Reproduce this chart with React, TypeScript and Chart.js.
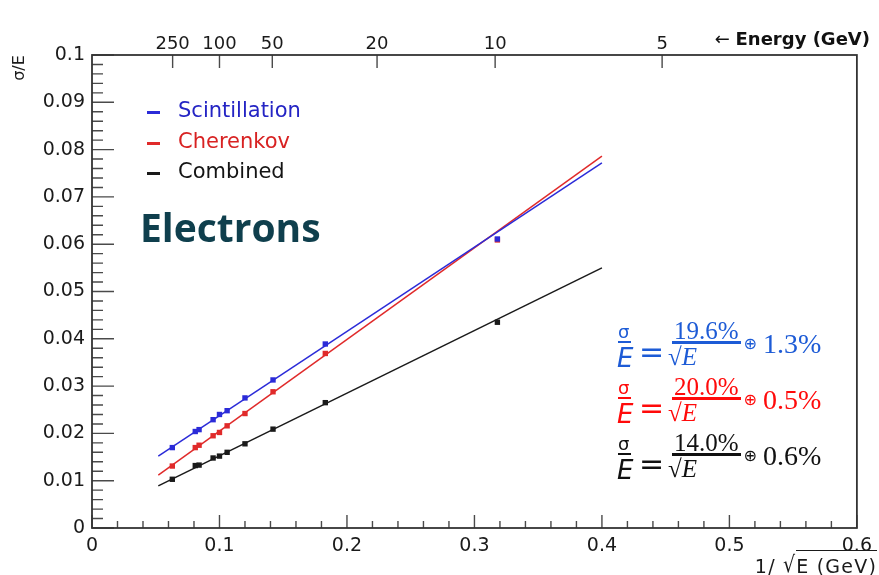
import React, { useEffect, useRef } from "react";
import { Chart, registerables } from "chart.js";

Chart.register(...registerables);

// 1/sqrt(E) of the measured beam energies
const invSqrtE = [0.063, 0.081, 0.084, 0.095, 0.1, 0.106, 0.12, 0.142, 0.183, 0.318];
const scintValues = [0.017, 0.0204, 0.0208, 0.0229, 0.024, 0.0248, 0.0275, 0.0313, 0.0389, 0.0611];
const cherenkovValues = [0.0131, 0.017, 0.0175, 0.0195, 0.0202, 0.0216, 0.0242, 0.0288, 0.0369, 0.0609];
const combinedValues = [0.0103, 0.0132, 0.0133, 0.0148, 0.0152, 0.016, 0.0178, 0.0209, 0.0265, 0.0435];

// fit lines (end points)
const fitRange = [0.052, 0.4];
const scintFit = [0.0152, 0.0772];
const cherenkovFit = [0.0112, 0.0786];
const combinedFit = [0.0089, 0.055];

// top axis: energy (GeV)
const energyTicks = [250, 100, 50, 20, 10, 5];

const seriesNames = ["Scintillation", "Cherenkov", "Combined"];
const stochasticTerms = ["19.6%", "20.0%", "14.0%"];
const constantTerms = ["1.3%", "0.5%", "0.6%"];

const LINE_COLORS = ["#2b2bd8", "#e02a2a", "#1a1a1a"];
const LEGEND_COLORS = ["#2424c4", "#d82222", "#141414"];
const FORMULA_COLORS = ["#1d5bd6", "#ff0a0a", "#111111"];

const SANS = "'DejaVu Sans', sans-serif";
const SERIF = "'Liberation Serif', serif";

const toPts = (xs: number[], ys: number[]) => xs.map((x, i) => ({ x, y: ys[i] }));

const rootFrame = {
  id: "rootFrame",
  afterDraw(chart: any) {
    const { ctx, chartArea: a, scales } = chart;
    const x = scales.x;
    const y = scales.y;
    ctx.save();
    ctx.strokeStyle = "#4a4a4a";
    ctx.lineWidth = 1.4;
    ctx.beginPath();
    for (let i = 0; i <= 30; i++) {
      const px = x.getPixelForValue(i * 0.02);
      const len = i % 5 === 0 ? 13 : 7;
      ctx.moveTo(px, a.bottom);
      ctx.lineTo(px, a.bottom - len);
    }
    for (let i = 0; i <= 50; i++) {
      const py = y.getPixelForValue(i * 0.002);
      const len = i % 5 === 0 ? 22 : 11;
      ctx.moveTo(a.left, py);
      ctx.lineTo(a.left + len, py);
    }
    energyTicks.forEach((e) => {
      const px = x.getPixelForValue(1 / Math.sqrt(e));
      ctx.moveTo(px, a.top);
      ctx.lineTo(px, a.top + 13);
    });
    ctx.stroke();
    ctx.strokeStyle = "#333";
    ctx.lineWidth = 1.8;
    ctx.strokeRect(a.left, a.top, a.right - a.left, a.bottom - a.top);
    ctx.restore();
  },
};

function Formula({ idx, B }: { idx: number; B: number }) {
  const color = FORMULA_COLORS[idx];
  return (
    <div style={{ position: "absolute", left: 617, top: B, width: 0, height: 0, color, whiteSpace: "nowrap" }}>
      <span style={{ position: "absolute", left: 1, top: -19, fontFamily: SANS, fontSize: 18, lineHeight: 1 }}>σ</span>
      <div style={{ position: "absolute", left: 1, top: -1, width: 13, height: 2, background: color }} />
      <span style={{ position: "absolute", left: 0, top: 3, fontFamily: SANS, fontStyle: "italic", fontSize: 26, lineHeight: 1 }}>E</span>
      <span style={{ position: "absolute", left: 22, top: -5, fontFamily: SANS, fontSize: 30, lineHeight: 1 }}>=</span>
      <div style={{ position: "absolute", left: 51, top: -21, display: "flex", alignItems: "flex-start" }}>
        <div style={{ display: "flex", flexDirection: "column", alignItems: "flex-start" }}>
          <div
            style={{
              fontFamily: SERIF,
              fontSize: 25,
              lineHeight: "20px",
              borderBottom: `3px solid ${color}`,
              padding: "0 2px",
              marginLeft: 4,
            }}
          >
            {stochasticTerms[idx]}
          </div>
          <div style={{ fontFamily: SERIF, fontSize: 25, lineHeight: 1 }}>
            √<i>E</i>
          </div>
        </div>
        <span style={{ fontFamily: SANS, fontSize: 16, lineHeight: 1, marginLeft: 3, marginTop: 15 }}>⊕</span>
        <span style={{ fontFamily: SERIF, fontSize: 28, lineHeight: 1, marginLeft: 6, marginTop: 9 }}>
          {constantTerms[idx]}
        </span>
      </div>
    </div>
  );
}

export default function App() {
  const ref = useRef<HTMLCanvasElement>(null);

  useEffect(() => {
    const pointSet = (i: number, ys: number[]) => ({
      label: seriesNames[i],
      data: toPts(invSqrtE, ys),
      showLine: false,
      pointStyle: "rect" as const,
      pointRadius: 3.8,
      backgroundColor: LINE_COLORS[i],
      borderColor: LINE_COLORS[i],
      borderWidth: 0,
    });
    const fitSet = (i: number, ys: number[]) => ({
      label: seriesNames[i] + " fit",
      data: toPts(fitRange, ys),
      showLine: true,
      pointRadius: 0,
      borderColor: LINE_COLORS[i],
      borderWidth: 1.5,
      fill: false,
    });
    const tickFont = { family: "DejaVu Sans", size: 19 };
    const chart = new Chart(ref.current as HTMLCanvasElement, {
      type: "scatter",
      data: {
        datasets: [
          pointSet(0, scintValues),
          pointSet(1, cherenkovValues),
          pointSet(2, combinedValues),
          fitSet(0, scintFit),
          fitSet(1, cherenkovFit),
          fitSet(2, combinedFit),
        ],
      },
      options: {
        responsive: false,
        animation: false,
        events: [],
        layout: { padding: { left: 0, right: 19, top: 0, bottom: 0 } },
        plugins: { legend: { display: false }, tooltip: { enabled: false } },
        scales: {
          x: {
            type: "linear",
            position: "bottom",
            min: 0,
            max: 0.6,
            grid: { display: false, drawTicks: false },
            border: { display: false },
            ticks: {
              stepSize: 0.1,
              autoSkip: false,
              maxRotation: 0,
              padding: 7,
              color: "#1a1a1a",
              font: tickFont,
              callback: (v: any) => String(parseFloat(Number(v).toFixed(1))),
            },
            afterFit: (s: any) => {
              s.height = 47;
            },
          },
          x2: {
            type: "linear",
            position: "top",
            min: 0,
            max: 0.6,
            grid: { display: false, drawTicks: false },
            border: { display: false },
            afterBuildTicks: (s: any) => {
              s.ticks = energyTicks.map((e) => ({ value: 1 / Math.sqrt(e) }));
            },
            ticks: {
              autoSkip: false,
              maxRotation: 0,
              padding: 0,
              color: "#1a1a1a",
              font: { family: "DejaVu Sans", size: 18 },
              callback: (_v: any, i: number) => String(energyTicks[i]),
            },
            afterFit: (s: any) => {
              s.height = 55;
            },
          },
          y: {
            type: "linear",
            position: "left",
            min: 0,
            max: 0.1,
            grid: { display: false, drawTicks: false },
            border: { display: false },
            ticks: {
              stepSize: 0.01,
              padding: 7,
              color: "#1a1a1a",
              font: tickFont,
              callback: (v: any) => String(parseFloat(Number(v).toFixed(2))),
            },
            afterFit: (s: any) => {
              s.width = 92;
            },
          },
        },
      },
      plugins: [rootFrame],
    });
    return () => chart.destroy();
  }, []);

  const legendTops = [100, 131, 161];
  const formulaBars = [342, 398, 454];

  return (
    <div
      style={{
        position: "fixed",
        left: 0,
        top: 0,
        width: 879,
        height: 575,
        background: "#fff",
        overflow: "hidden",
      }}
    >
      <canvas ref={ref} width={879} height={575} style={{ position: "absolute", left: 0, top: 0 }} />

      {/* y title */}
      <div
        style={{
          position: "absolute",
          left: -1,
          top: 58,
          width: 40,
          height: 20,
          lineHeight: "20px",
          textAlign: "center",
          fontFamily: SANS,
          fontSize: 16,
          color: "#1a1a1a",
          transform: "rotate(-90deg)",
        }}
      >
        σ/E
      </div>

      {/* top axis title */}
      <div
        style={{
          position: "absolute",
          right: 9,
          top: 30,
          fontFamily: SANS,
          fontSize: 18,
          lineHeight: 1,
          color: "#111",
          whiteSpace: "nowrap",
        }}
      >
        <span>← </span>
        <span style={{ fontWeight: "bold" }}>Energy (GeV)</span>
      </div>

      {/* x title */}
      <div
        style={{
          position: "absolute",
          right: 2,
          top: 557,
          fontFamily: SANS,
          fontSize: 19,
          letterSpacing: 1.2,
          lineHeight: 1,
          color: "#1a1a1a",
          whiteSpace: "nowrap",
        }}
      >
        1/ <span style={{ display: "inline-block", transform: "scaleY(1.2)", transformOrigin: "50% 100%" }}>√</span>
        <span style={{ borderTop: "1.5px solid #1a1a1a", paddingTop: 4 }}>E (GeV)</span>
      </div>

      {/* legend */}
      {seriesNames.map((name, i) => (
        <React.Fragment key={name}>
          <div
            style={{
              position: "absolute",
              left: 147,
              top: legendTops[i] + 11,
              width: 13,
              height: 2.5,
              background: LINE_COLORS[i],
            }}
          />
          <div
            style={{
              position: "absolute",
              left: 178,
              top: legendTops[i],
              fontFamily: SANS,
              fontSize: 21,
              lineHeight: 1,
              color: LEGEND_COLORS[i],
              whiteSpace: "nowrap",
            }}
          >
            {name}
          </div>
        </React.Fragment>
      ))}

      {/* Electrons */}
      <div
        style={{
          position: "absolute",
          left: 140,
          top: 207,
          fontFamily: "'Open Sans', sans-serif",
          fontWeight: 700,
          fontSize: 39,
          lineHeight: 1,
          color: "#0f3f4d",
          whiteSpace: "nowrap",
        }}
      >
        Electrons
      </div>

      {formulaBars.map((B, i) => (
        <Formula key={i} idx={i} B={B} />
      ))}
    </div>
  );
}
